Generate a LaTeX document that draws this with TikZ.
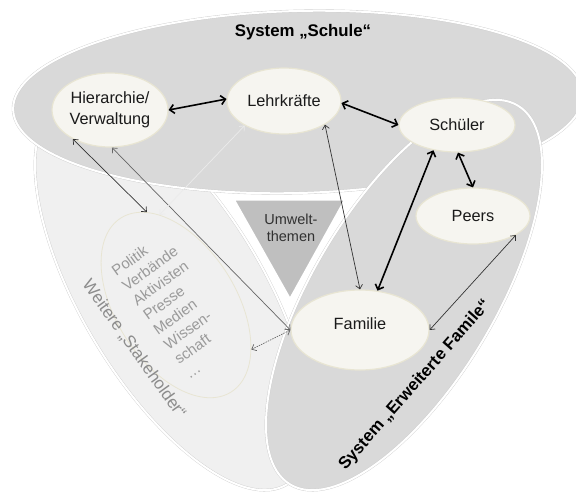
\documentclass[tikz,border=0pt]{standalone}
\usepackage{fontspec}
\setmainfont{Liberation Sans}
\usetikzlibrary{shapes.geometric,arrows.meta}
\definecolor{gA}{HTML}{D9D9D9}
\definecolor{gL}{HTML}{F0F0F0}
\definecolor{gT}{HTML}{BFBFBF}
\definecolor{cream}{HTML}{F6F5F0}
\definecolor{creamline}{HTML}{E8E5D3}
\definecolor{txtgray}{HTML}{8C8C8C}
\definecolor{listgray}{HTML}{9A9A9A}
\definecolor{faint}{HTML}{EBEBEB}
\definecolor{ink}{HTML}{1A1A1A}
\tikzset{
  bigshape/.style={draw=black!20, line width=0.35pt, double=white, double distance=2pt},
  actor/.style={ellipse, fill=cream, draw=creamline, line width=1.2pt, inner sep=0pt,
    text=ink, font=\fontsize{16.3}{21.5}\selectfont, align=center},
  strong/.style={line width=1.6pt, draw=black,
    {Straight Barb[length=4.5pt,width=9pt]}-{Straight Barb[length=4.5pt,width=9pt]}},
  weak/.style={line width=0.7pt, draw=black!80,
    {Straight Barb[length=4pt,width=7pt]}-{Straight Barb[length=4pt,width=7pt]}},
  titletext/.style={text=black, font=\bfseries\fontsize{16.8}{20}\selectfont}
}
\begin{document}
\begin{tikzpicture}[x=1pt,y=-1pt]
\useasboundingbox (0,0) rectangle (576,493);
% left ellipse: Weitere Stakeholder
\path[bigshape, fill=gL, rotate around={-59:(173,295)}] (173,295) ellipse [x radius=221pt, y radius=91pt];
% triangle Umweltthemen
\path[fill=gT, draw=white, line width=3pt, line join=round] (233,199) -- (346,199) -- (290,300) -- cycle;
% top ellipse: System Schule
\path[bigshape, fill=gA, rotate around={1.5:(298,102)}] (298,102) ellipse [x radius=285pt, y radius=91pt];
% right ellipse: Erweiterte Familie
\path[bigshape, fill=gA, rotate around={59:(404,295)}] (404,295) ellipse [x radius=221pt, y radius=91pt];

% stakeholder list
\node[ellipse, draw=creamline, line width=0.8pt, minimum width=206pt, minimum height=120pt,
  rotate=-57.6, inner sep=0pt] (list) at (176,305) {};
\node[rotate=35.5, align=left, text=listgray, font=\fontsize{15}{18}\selectfont] (listtext) at (176,305)
  {Politik\\Verbände\\Aktivisten\\Presse\\Medien\\Wissen-\\schaft\\…};
\node[rotate=-54.4, text=txtgray, font=\fontsize{17}{20}\selectfont] (stake) at (134,349) {Weitere „Stakeholder“};
\node[text=ink!90, font=\fontsize{14.5}{17}\selectfont, align=center] (umwelt) at (291,228) {Umwelt-\\themen};

% titles
\node[titletext] (tschule) at (303,32) {System „Schule“};
\node[titletext, rotate=48.7] (tfam) at (415,385) {System „Erweiterte Famile“};

% actors
\node[actor, minimum width=116pt, minimum height=74pt] (hier) at (110,110) {Hierarchie/\\Verwaltung};
\node[actor, minimum width=114pt, minimum height=66pt] (lehr) at (284,101) {Lehrkräfte};
\node[actor, minimum width=116pt, minimum height=54pt] (schueler) at (457,125) {Schüler};
\node[actor, minimum width=114pt, minimum height=56pt] (peers) at (473,216) {Peers};
\node[actor, minimum width=138pt, minimum height=80pt, text depth=12pt] (familie) at (360,330) {Familie};

% connectors
\draw[strong] (hier.0) -- (lehr.178);
\draw[strong] (lehr.-2) -- (schueler.180);
\draw[strong] (schueler.-88) -- (peers.90);
\draw[strong] (schueler.-133) -- (familie.66);
\draw[weak] (lehr.-30) -- (familie.90);
\draw[weak] (peers.-24) -- (familie.0);
\draw[weak] (hier.-142) -- (list.165);
\draw[weak, draw=black!60] (hier.-87) -- (familie.180);
\draw[weak, draw=black!60, dash pattern=on 1.5pt off 1pt] (list.27) -- (familie.180);
\draw[weak, draw=faint] (lehr.-148) -- (list.158);
\end{tikzpicture}
\end{document}
